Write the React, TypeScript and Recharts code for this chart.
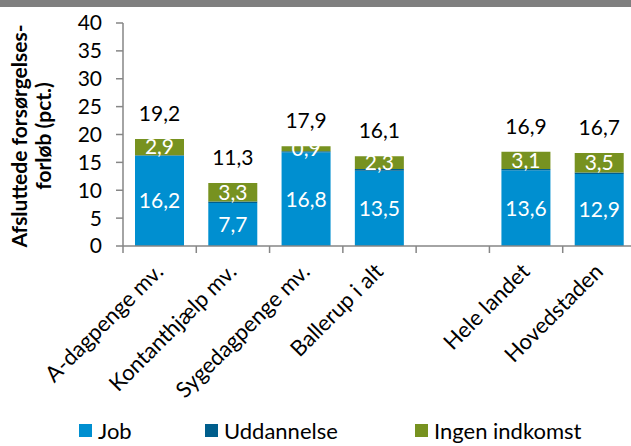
import React from 'react';
import { BarChart, Bar, XAxis, YAxis, LabelList, Legend } from 'recharts';

const categories = [
  'A-dagpenge mv.',
  'Kontanthjælp mv.',
  'Sygedagpenge mv.',
  'Ballerup i alt',
  '',
  'Hele landet',
  'Hovedstaden',
];
const jobValues = [16.2, 7.7, 16.8, 13.5, null, 13.6, 12.9];
const uddannelseValues = [0.1, 0.3, 0.2, 0.3, null, 0.2, 0.3];
const ingenValues = [2.9, 3.3, 0.9, 2.3, null, 3.1, 3.5];
const totalValues = [19.2, 11.3, 17.9, 16.1, null, 16.9, 16.7];
const yTicks = [0, 5, 10, 15, 20, 25, 30, 35, 40];

const FONT = 'Lato, "Open Sans", sans-serif';
const AXIS_GREY = '#868686';

const series = [
  { key: 'job', label: 'Job', color: '#008FD0' },
  { key: 'uddannelse', label: 'Uddannelse', color: '#005E8C' },
  { key: 'ingen', label: 'Ingen indkomst', color: '#779220' },
];

const rows = categories.map((name, i) => ({
  name,
  job: jobValues[i],
  uddannelse: uddannelseValues[i],
  ingen: ingenValues[i],
  total: totalValues[i],
}));

const fmt = (v: any) => (v == null ? '' : Number(v).toFixed(1).replace('.', ','));

// kategori-label drejet 45 grader + tick-streg mellem kategorierne (Excel-stil)
const CategoryTick: React.FC<any> = ({ x, y, payload }) => {
  const half = payload?.offset ?? 0;
  return (
    <g>
      <line x1={x - half} x2={x - half} y1={y} y2={y + 7} stroke={AXIS_GREY} strokeWidth={1.5} />
      <text
        x={x + 5}
        y={y + 27}
        transform={`rotate(-45, ${x + 5}, ${y + 27})`}
        textAnchor="end"
        fontSize={22}
        fontFamily={FONT}
        fill="#000"
      >
        {payload.value}
      </text>
    </g>
  );
};

const YLabel: React.FC<any> = () => (
  <g fontFamily={FONT} fontWeight={700} fontSize={21} fill="#000">
    <text x={18} y={136} transform="rotate(-90, 18, 136)" textAnchor="middle" dominantBaseline="central">
      Afsluttede forsørgelses-
    </text>
    <text x={42} y={136} transform="rotate(-90, 42, 136)" textAnchor="middle" dominantBaseline="central">
      forløb (pct.)
    </text>
  </g>
);

const LegendContent: React.FC<any> = () => (
  <div style={{ position: 'relative', width: 631, height: 30, fontFamily: FONT, fontSize: 22 }}>
    {series.map((s, i) => (
      <div
        key={s.key}
        style={{
          position: 'absolute',
          left: [79, 205, 415][i],
          top: 0,
          display: 'flex',
          alignItems: 'center',
          gap: 6,
          whiteSpace: 'nowrap',
        }}
      >
        <span style={{ width: 13, height: 13, background: s.color, display: 'inline-block' }} />
        <span>{s.label}</span>
      </div>
    ))}
  </div>
);

export default function App() {
  return (
    <div
      style={{
        position: 'absolute',
        left: 0,
        top: 0,
        width: 631,
        height: 446,
        overflow: 'hidden',
        background: '#fff',
      }}
    >
      <div style={{ position: 'absolute', left: 0, top: 0, width: 631, height: 7, background: '#7F7F7F' }} />
      <BarChart
        width={660}
        height={446}
        data={rows}
        margin={{ top: 23, right: 24, left: 0, bottom: 0 }}
        barSize={49}
      >
        <XAxis
          dataKey="name"
          interval={0}
          height={200}
          tickLine={false}
          tickSize={0}
          tickMargin={0}
          axisLine={{ stroke: AXIS_GREY, strokeWidth: 1.5 }}
          tick={<CategoryTick />}
        />
        <YAxis
          width={123}
          domain={[0, 40]}
          ticks={yTicks}
          interval={0}
          tickSize={7}
          tickMargin={14}
          axisLine={{ stroke: AXIS_GREY, strokeWidth: 1.5 }}
          tickLine={{ stroke: AXIS_GREY, strokeWidth: 1.5 }}
          tick={{ fontSize: 21, fill: '#000', fontFamily: FONT }}
          label={<YLabel />}
        />
        <Legend
          layout="horizontal"
          verticalAlign="middle"
          align="center"
          wrapperStyle={{ top: 417, left: 0, width: 631 }}
          content={<LegendContent />}
        />
        <Bar dataKey="job" name="Job" stackId="a" fill={series[0].color} isAnimationActive={false}>
          <LabelList dataKey="job" position="center" formatter={fmt} fill="#fff" fontSize={21} fontFamily={FONT} />
        </Bar>
        <Bar dataKey="uddannelse" name="Uddannelse" stackId="a" fill={series[1].color} isAnimationActive={false} />
        <Bar dataKey="ingen" name="Ingen indkomst" stackId="a" fill={series[2].color} isAnimationActive={false}>
          <LabelList dataKey="ingen" position="center" formatter={fmt} fill="#fff" fontSize={21} fontFamily={FONT} />
          <LabelList dataKey="total" position="top" offset={18} formatter={fmt} fill="#000" fontSize={21} fontFamily={FONT} />
        </Bar>
      </BarChart>
    </div>
  );
}
